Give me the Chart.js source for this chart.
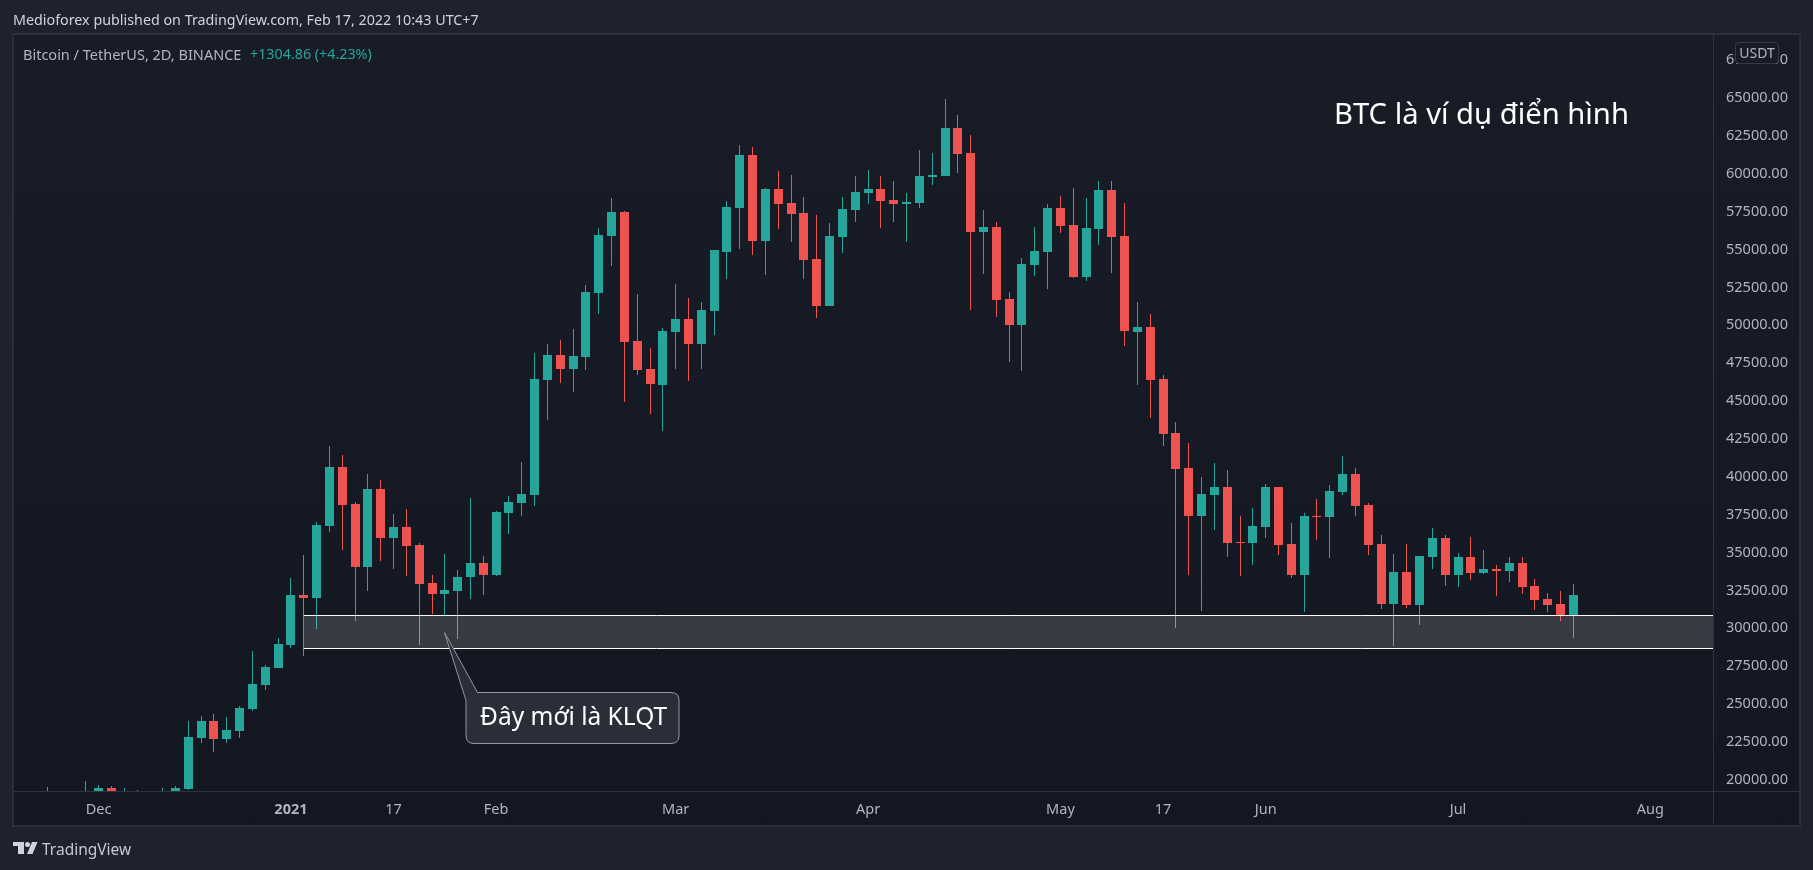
<!DOCTYPE html>
<html>
<head>
<meta charset="utf-8">
<title>BTC</title>
<script src="https://cdn.jsdelivr.net/npm/chart.js@4"></script>
<style>
  html, body { margin: 0; padding: 0; width: 1813px; height: 870px; overflow: hidden; background: #1e222d; }
  body { font-family: "Noto Sans", sans-serif; position: relative; }
  div, svg, canvas { position: absolute; }
  .txt { white-space: nowrap; }
  #frame { left: 12px; top: 33px; width: 1785px; height: 790px; border: 2px solid #2a2e39;
    background: linear-gradient(to bottom, #181c27, #131722); }
  #sepV { left: 1713px; top: 35px; width: 1px; height: 790px; background: #2f333e; }
  #sepH { left: 14px; top: 791px; width: 1785px; height: 1px; background: #2f333e; }
  #published { left: 13px; top: 10px; font-size: 14.3px; line-height: 20px; color: #d1d4dc; }
  #symbol { left: 23px; top: 44px; font-size: 14.5px; line-height: 20px; color: #b2b5be; }
  #change { left: 250px; top: 44px; font-size: 14.3px; line-height: 20px; color: #26a69a; }
  #note { left: 1334px; top: 93px; font-size: 29.2px; line-height: 40px; color: #ffffff; }
  #badge { left: 1735px; top: 42px; width: 42px; height: 20px; border: 1px solid #363a45; border-radius: 4px;
    background: #181c27; color: #b2b5be; font-size: 14px; line-height: 20px; text-align: center; }
  #klqt { left: 480px; top: 701px; font-size: 24.5px; line-height: 30px; color: #ffffff; }
  #brand { left: 42px; top: 838px; font-size: 15.5px; line-height: 22px; color: #c5c8d0; }
</style>
</head>
<body>
<div id="frame"></div>
<div id="sepV"></div>
<div id="sepH"></div>
<canvas id="chart" width="1813" height="870" style="left:0;top:0"></canvas>

<div id="published" class="txt">Medioforex published on TradingView.com, Feb 17, 2022 10:43 UTC+7</div>
<div id="symbol" class="txt">Bitcoin / TetherUS, 2D, BINANCE</div>
<div id="change" class="txt">+1304.86 (+4.23%)</div>
<div id="note" class="txt">BTC là ví dụ điển hình</div>
<div id="badge" class="txt">USDT</div>

<svg style="left:0;top:0" width="1813" height="870">
  <path d="M444.5 632.5 L477.5 692.5 H671 Q679 692.5 679 700.5 V735.5 Q679 743.5 671 743.5 H474 Q466 743.5 466 735.5 V700.5 Z"
        fill="#2a2e39" stroke="#9598a1" stroke-width="1"/>
  <path d="M13 842 h11 v12 h-6 v-8 h-5 z M32 842 h5.5 L32.5 854 H27 z" fill="#d1d4dc"/>
  <circle cx="27.5" cy="844.5" r="2.5" fill="#d1d4dc"/>
</svg>
<div id="klqt" class="txt">Đây mới là KLQT</div>
<div id="brand" class="txt">TradingView</div>

<script>
// slot of the first candle, slots count 2D bars on the time axis
var firstSlot = -11;

var highs = [
  19526, 19100, 19050, 19922, 19658, 19592, 19460, 19328, 19100, 19460, 19592,
  23882, 24212, 24344, 24146, 24872, 28502, 27578, 29360, 33320, 34838,
  37016, 42032, 41438, 38336, 40184, 39788, 37544, 37874, 35630, 33518,
  34904, 33848, 38600, 34772, 37742, 38732, 40976, 48170, 48764, 49028,
  49754, 52658, 56420, 58400, 57542, 52064, 48500, 49820, 52724, 51800,
  51536, 54968, 58202, 61898, 61766, 59060, 60182, 59918, 58466, 57278,
  56750, 58466, 59852, 60248, 59852, 59522, 58730, 61568, 61370, 64934,
  63878, 62558, 57608, 56816, 52196, 54440, 56486, 58004, 58532, 59060,
  58400, 59522, 59522, 58070, 51536, 50744, 46718, 43616, 42230, 39986,
  40910, 40448, 37412, 37940, 39524, 39326, 36950, 37610, 38534, 39458,
  41372, 40580, 38270, 36158, 34904, 35564, 34772, 36620, 36158, 34970,
  36026, 35168, 34178, 34706, 34706, 33254, 32330, 32462, 32924
];
var lows = [
  18500, 18600, 18600, 18600, 18600, 18700, 18700, 18600, 18500, 18700, 18900,
  19328, 22430, 21836, 22430, 22760, 24542, 25928, 27380, 28700, 28172,
  29954, 36356, 35168, 30482, 32462, 34442, 33914, 33452, 28898, 30944,
  30856, 29294, 31934, 32198, 33452, 36224, 37412, 38072, 43748, 46190,
  45596, 47048, 50744, 53912, 44936, 46718, 44144, 43022, 47114, 46322,
  47114, 49358, 53054, 55034, 54638, 53318, 56354, 55496, 53054, 50480,
  51272, 54770, 56816, 58004, 56420, 56816, 55496, 57740, 59258, 59852,
  60050, 51008, 53384, 50546, 47576, 46982, 53252, 52394, 56090, 53120,
  52922, 55298, 53450, 48632, 46058, 43880, 42032, 30020, 33518, 31142,
  36488, 34706, 33452, 34178, 35960, 34838, 33320, 31076, 35828, 34640,
  38798, 37412, 34838, 31274, 28832, 31340, 30218, 33914, 32792, 32726,
  33188, 33584, 32132, 33056, 32264, 31208, 31076, 30482, 29360
];
var opens = [
  18700, 18700, 18750, 18800, 18900, 19460, 18850, 19000, 18700, 18850, 19050,
  19394, 22760, 23882, 22694, 23222, 24674, 26258, 27380, 28898, 32198,
  32000, 36752, 40646, 38204, 34046, 39194, 35960, 36686, 35498, 32990,
  32264, 32462, 33386, 34310, 33518, 37610, 38270, 38798, 46388, 48038,
  47114, 47906, 52130, 55892, 57476, 48962, 47114, 46058, 49556, 50414,
  48764, 50942, 54836, 57740, 61238, 55562, 58994, 58070, 57410, 54374,
  51272, 55826, 57608, 58730, 58994, 58268, 58004, 58070, 59786, 59852,
  63020, 61370, 56156, 56486, 51734, 50018, 53978, 54836, 57740, 56618,
  53186, 56354, 58928, 55892, 49556, 49886, 46454, 42890, 40580, 37412,
  38798, 39326, 35696, 35630, 36686, 39326, 35564, 33518, 37412, 37346,
  38996, 40184, 38138, 35564, 31604, 33716, 31538, 34706, 35960, 33518,
  34706, 33650, 33914, 33782, 34310, 32792, 31934, 31604, 30812
];
var closes = [
  18900, 18850, 18900, 19000, 19460, 18950, 19000, 18800, 18900, 19050, 19460,
  22826, 23882, 22694, 23288, 24740, 26324, 27446, 28964, 32198, 32000,
  36818, 40646, 38138, 34046, 39194, 35960, 36686, 35432, 32924, 32264,
  32528, 33386, 34310, 33518, 37676, 38336, 38864, 46454, 48038, 47114,
  47972, 52196, 55958, 57476, 48896, 47048, 46124, 49622, 50414, 48764,
  51008, 54968, 57806, 61238, 55562, 58994, 58004, 57344, 54308, 51272,
  55892, 57674, 58796, 58994, 58202, 58004, 58136, 59852, 59918, 63020,
  61304, 56156, 56486, 51668, 50018, 54044, 54902, 57740, 56552, 53186,
  56420, 58928, 55826, 49622, 49886, 46388, 42824, 40514, 37412, 38864,
  39326, 35630, 35630, 36752, 39326, 35498, 33518, 37412, 37346, 39062,
  40184, 38072, 35498, 31604, 33716, 31538, 34772, 35960, 33518, 34706,
  33650, 33914, 33782, 34310, 32726, 31868, 31538, 30812, 32198
];

// time axis labels and the slots they sit on
var timeLabels = ["Dec", "2021", "17", "Feb", "Mar", "Apr", "May", "17", "Jun", "Jul", "Aug"];
var timeSlots = [-7, 8, 16, 24, 38, 53, 68, 76, 84, 99, 114];

var priceTicks = [
  20000, 22500, 25000, 27500, 30000, 32500, 35000, 37500, 40000, 42500,
  45000, 47500, 50000, 52500, 55000, 57500, 60000, 62500, 65000, 67500
];

var zoneHigh = 30843;
var zoneLow = 28667;
var zoneStartSlot = 9;

var upColor = "#26a69a";
var downColor = "#ef5350";
var tickColor = "#b2b5be";
var fontName = "'Noto Sans', sans-serif";

var bodies = [];
var wicks = [];
var colors = [];
for (var i = 0; i < opens.length; i++) {
  var slot = firstSlot + i;
  bodies.push({ x: slot, y: [opens[i], closes[i]] });
  wicks.push({ x: slot, y: [lows[i], highs[i]] });
  colors.push(closes[i] >= opens[i] ? upColor : downColor);
}

// keep candles on whole pixels so the 1px wicks stay sharp
var snapCandles = {
  id: "snapCandles",
  beforeDatasetsDraw: function (chart) {
    [2, 3].forEach(function (n) {
      chart.getDatasetMeta(n).data.forEach(function (bar) {
        bar.x = Math.floor(bar.x) + 0.5;
      });
    });
  }
};

new Chart(document.getElementById("chart"), {
  data: {
    datasets: [
      {
        type: "line",
        order: 0,
        data: [{ x: zoneStartSlot, y: zoneHigh }, { x: 119, y: zoneHigh }],
        borderColor: "#ffffff",
        borderWidth: 1,
        pointRadius: 0,
        fill: "+1",
        backgroundColor: "rgba(255,255,255,0.15)"
      },
      {
        type: "line",
        order: 0,
        data: [{ x: zoneStartSlot, y: zoneLow }, { x: 119, y: zoneLow }],
        borderColor: "#ffffff",
        borderWidth: 1,
        pointRadius: 0,
        fill: false
      },
      {
        type: "bar",
        order: 1,
        data: bodies,
        backgroundColor: colors,
        barThickness: 9,
        grouped: false,
        inflateAmount: 0
      },
      {
        type: "bar",
        order: 2,
        data: wicks,
        backgroundColor: colors,
        barThickness: 1,
        grouped: false,
        inflateAmount: 0
      }
    ]
  },
  options: {
    responsive: false,
    animation: false,
    events: [],
    layout: { padding: { left: 13, top: 34, right: 13, bottom: 45 } },
    plugins: { legend: { display: false }, tooltip: { enabled: false }, title: { display: false } },
    scales: {
      x: {
        type: "linear",
        offset: false,
        min: -13.67,
        max: 118.88,
        grid: { display: false, offset: false, drawTicks: false },
        border: { display: false },
        afterBuildTicks: function (scale) {
          scale.ticks = timeSlots.map(function (v) { return { value: v }; });
        },
        afterFit: function (scale) { scale.height = 34; },
        ticks: {
          autoSkip: false,
          maxRotation: 0,
          padding: 10,
          color: tickColor,
          font: function (ctx) {
            return { family: fontName, size: 14.5, weight: ctx.index === 1 ? "bold" : "normal" };
          },
          callback: function (value, index) { return timeLabels[index]; }
        }
      },
      y: {
        position: "right",
        min: 19262,
        max: 69224,
        grid: { display: false, drawTicks: false },
        border: { display: false },
        afterBuildTicks: function (scale) {
          scale.ticks = priceTicks.map(function (v) { return { value: v }; });
        },
        afterFit: function (scale) { scale.width = 87; },
        ticks: {
          autoSkip: false,
          padding: 13,
          color: tickColor,
          font: { family: fontName, size: 14.5 },
          callback: function (value) { return value.toFixed(2); }
        }
      }
    }
  },
  plugins: [snapCandles]
});
</script>
</body>
</html>
